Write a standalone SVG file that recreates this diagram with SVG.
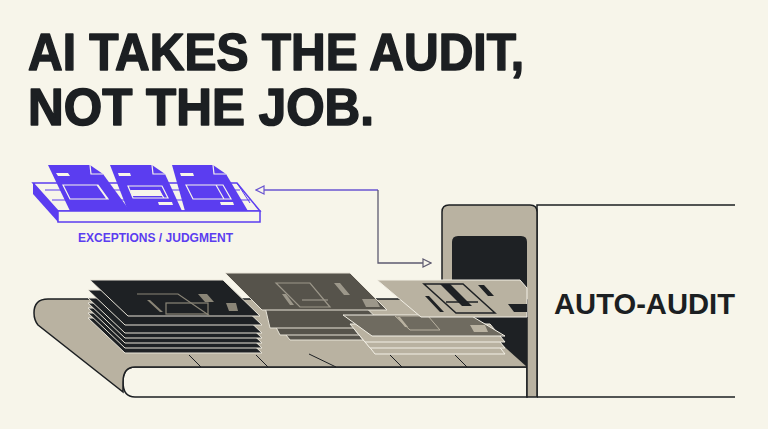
<svg xmlns="http://www.w3.org/2000/svg" width="768" height="429" viewBox="0 0 768 429">
<defs>
<style>
.t{font-family:"Liberation Sans",Arial,sans-serif;font-weight:bold}
.ink{stroke:#1c1f22;stroke-width:1.5}
.dk{fill:#1e2124;stroke:#e8e4d8;stroke-width:1}
.md{fill:#56534b;stroke:#e8e4d8;stroke-width:1}
.lt{fill:#b9b2a1;stroke:#f3f0e6;stroke-width:1}
.pu{fill:#5b3df0}
.h{stroke:#1c1f22;stroke-width:1.6;stroke-linejoin:round}
</style>
<marker id="ah" viewBox="0 0 10 10" refX="9" refY="5" markerWidth="10" markerHeight="10" markerUnits="userSpaceOnUse" orient="auto"><path d="M1,1 L9,5 L1,9 Z" fill="#f7f5ea" stroke="context-stroke" stroke-width="1.2"/></marker>
</defs>
<rect width="768" height="429" fill="#f7f5ea"/>
<text class="t h" x="28" y="70" font-size="52" fill="#1c1f22" textLength="496" lengthAdjust="spacingAndGlyphs">AI TAKES THE AUDIT,</text>
<text class="t h" x="28" y="125" font-size="52" fill="#1c1f22" textLength="346" lengthAdjust="spacingAndGlyphs">NOT THE JOB.</text>

<g id="conveyor">
<path d="M527,367 L135,367 Q123,367 123,382 Q123,397 135,397 L527,397 Z" fill="#f7f5ea" class="ink"/>
<path d="M527,299 L48,299 Q34,299 34,313 Q34,320 38,325 L123,392 L123,382 Q123,367 135,367 L527,367 Z" fill="#b9b2a1" class="ink"/>
<g stroke="#1c1f22" stroke-width="1">
<path d="M189,355 L201,367 M256,355 L268,367 M309,354 L336,367 M390,355 L402,367 M455,355 L467,367"/>
</g>
</g>

<g id="machine">
<path d="M537,397 L537,205 L735,205" fill="none" class="ink"/>
<path d="M537,397 L735,397" class="ink"/>
<path d="M442,300 L442,212 Q442,205 449,205 L530,205 Q537,205 537,212 L537,397 L527,397 L527,300 Z" fill="#b9b2a1" class="ink"/>
<path d="M452,300 L452,242 Q452,236 458,236 L521,236 Q527,236 527,242 L527,367 L452,300 Z" fill="#1e2124"/>
<text class="t" x="554" y="314" font-size="30" fill="#1c1f22" textLength="181" lengthAdjust="spacingAndGlyphs">AUTO-AUDIT</text>
</g>

<g id="dark-stack">
<path class="dk" d="M88,318 L225,318 L262,353 L125,353 Z"/>
<path class="dk" d="M88,313 L225,313 L262,348 L125,348 Z"/>
<path class="dk" d="M88,308 L225,308 L262,343 L125,343 Z"/>
<path class="dk" d="M88,303 L225,303 L262,338 L125,338 Z"/>
<path class="dk" d="M88,298 L225,298 L262,333 L125,333 Z"/>
<path class="dk" d="M88,290 L225,290 L262,325 L125,325 Z"/>
<path class="dk" d="M90,280 L223,280 L260,316 L128,316 Z"/>
<path d="M137,294 L178,294 L210,316" fill="none" stroke="#8a8577" stroke-width="1.2"/>
<rect x="166" y="303" width="42" height="11" fill="none" stroke="#8a8577" stroke-width="1.2"/>
<path d="M198,294 L207,294 L214,302 L205,302 Z M226,303 L236,303 L238,311 L229,311 Z M147,300 L150,300 L163,312 L160,312 Z" fill="#8a8577"/>
</g>

<g id="mid-stack">
<path class="md" d="M262,305 L352,305 L387,340 L290,340 Z"/>
<path class="md" d="M262,300 L352,300 L387,335 L280,335 Z"/>
<path class="md" d="M262,294 L352,294 L387,328 L270,328 Z"/>
<path class="md" d="M225,273 L350,273 L387,310 L262,310 Z"/>
<path d="M276,283 L310,283 L330,307 L300,307 Z" fill="none" stroke="#9c978a" stroke-width="1.2"/>
<path d="M302,300 L328,300" stroke="#9c978a" stroke-width="1.2"/>
<path d="M334,283 L340,283 L350,295 L344,295 Z M362,299 L376,299 L380,307 L366,307 Z M282,294 L286,294 L294,305 L290,305 Z" fill="#9c978a"/>
</g>

<g id="light-stack">
<path class="lt" d="M360,335 L490,335 L505,354 L375,354 Z"/>
<path class="lt" d="M355,330 L490,330 L505,348 L370,348 Z"/>
<path class="lt" d="M350,324 L490,324 L505,342 L365,342 Z"/>
<path d="M343,315 L470,315 L505,336 L372,336 Z" fill="#6f6b60" stroke="#f3f0e6" stroke-width="1"/>
<path d="M395,316 L428,316 L440,330 L410,330 Z" fill="none" stroke="#b9b2a1" stroke-width="1"/>
<path d="M470,325 L485,325 L488,332 L474,332 Z M397,317 L400,317 L408,327 L405,327 Z" fill="#b9b2a1"/>
<path class="lt" d="M377,280 L520,280 L527,288 L527,317 L421,317 Z"/>
<path d="M424,284 L463,284 L495,313 L456,313 Z" fill="none" stroke="#1e2124" stroke-width="1.5"/>
<path d="M440,284 L450,284 L472,306 L462,306 Z M478,285 L484,285 L494,296 L488,296 Z M425,296 L429,296 L444,312 L440,312 Z M508,304 L527,304 L527,312 L514,312 Z" fill="#1e2124"/>
<path d="M446,302 L478,302" stroke="#1e2124" stroke-width="1.5"/>
</g>

<g id="exceptions-tray">
<path d="M33,183 L237,183 L260,211 L58,211 Z" fill="#f7f5ea" stroke="#5b3df0" stroke-width="1.5"/>
<path d="M33,183 L58,211 L58,222 L33,194 Z" class="pu"/>
<rect x="58" y="211" width="202" height="11" fill="#f7f5ea" stroke="#5b3df0" stroke-width="1.5"/>
<path d="M45,190 L240,190 M52,200 L250,200" stroke="#5b3df0" stroke-width="1"/>
<path class="pu" d="M48,165 L90,165 L103,174 L130,211 L70,211 Z"/>
<path class="pu" d="M110,165 L152,165 L165,174 L182,211 L128,211 Z"/>
<path class="pu" d="M172,165 L213,165 L226,174 L248,211 L185,211 Z"/>
<g fill="none" stroke="#f7f5ea" stroke-width="1.2">
<path d="M90,165 L91,174 L103,174 M152,165 L153,174 L165,174 M213,165 L214,174 L226,174"/>
<path d="M63,185 L98,185 L108,199 L70,199 Z M97,185 L107,199"/>
<path d="M128,186 L162,186 L168,198 L133,198 Z M158,190 L164,198"/>
<path d="M186,185 L223,185 L231,199 L193,199 Z M216,185 L224,199"/>
</g>
<path d="M56,173 L68,173 L70,176 L58,176 Z M118,173 L130,173 L131,176 L119,176 Z M180,173 L193,173 L194,176 L181,176 Z M158,202 L172,202 L173,205 L159,205 Z M220,202 L233,202 L234,205 L221,205 Z M130,190 L160,190 L163,196 L132,196 Z" fill="#f7f5ea"/>
<path d="M237,183 L250,203" stroke="#5b3df0" stroke-width="1"/>
<text class="t" x="78" y="242" font-size="12" fill="#5b3df0" textLength="155" lengthAdjust="spacingAndGlyphs">EXCEPTIONS / JUDGMENT</text>
</g>

<g id="connectors" fill="none" stroke-width="1.3">
<path d="M378,190 L256,190" stroke="#6a55d0" marker-end="url(#ah)"/>
<path d="M378,190 L378,263 L431,263" stroke="#5e5a70" marker-end="url(#ah)"/>
</g>
</svg>
